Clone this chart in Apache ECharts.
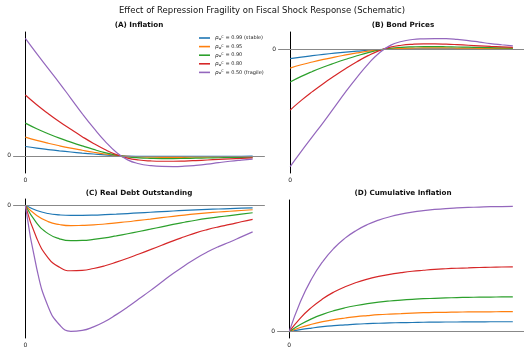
<!DOCTYPE html>
<html>
<head>
<meta charset="utf-8">
<script src="https://cdn.jsdelivr.net/npm/echarts@6/dist/echarts.min.js"></script>
<style>
  html,body{margin:0;padding:0;background:#fff;}
  #main{width:524px;height:348px;}
</style>
</head>
<body>
<div id="main"></div>
<script>
// horizon (periods after the shock)
const steps = [0,1,2,3,4,5,6,7,8,9,10,11,12,13,14,15,16,17,18,19,20];
const rhoLabels = ['0.99 (stable)','0.95','0.90','0.80','0.50 (fragile)'];
const colors = ['#1f77b4','#ff7f0e','#2ca02c','#d62728','#9467bd'];

// (A) Inflation
const inf99 = [0.079,0.065,0.053,0.042,0.032,0.023,0.015,0.007,0.001,-0.003,-0.005,-0.006,-0.006,-0.006,-0.006,-0.006,-0.005,-0.005,-0.004,-0.004,-0.003];
const inf95 = [0.159,0.131,0.107,0.085,0.065,0.047,0.030,0.015,0.003,-0.006,-0.010,-0.012,-0.013,-0.013,-0.013,-0.012,-0.011,-0.010,-0.009,-0.008,-0.007];
const inf90 = [0.278,0.230,0.188,0.150,0.116,0.084,0.054,0.027,0.005,-0.010,-0.018,-0.022,-0.024,-0.024,-0.023,-0.021,-0.019,-0.017,-0.015,-0.013,-0.011];
const inf80 = [0.518,0.435,0.360,0.290,0.225,0.163,0.105,0.053,0.010,-0.020,-0.036,-0.044,-0.047,-0.047,-0.045,-0.041,-0.036,-0.031,-0.026,-0.022,-0.018];
const inf50 = [1.000,0.870,0.745,0.620,0.490,0.360,0.238,0.125,0.030,-0.035,-0.068,-0.084,-0.091,-0.092,-0.089,-0.082,-0.072,-0.059,-0.047,-0.037,-0.028];

// (B) Bond prices
const bond99 = [-0.079,-0.065,-0.053,-0.042,-0.032,-0.023,-0.015,-0.007,-0.001,0.003,0.005,0.006,0.006,0.006,0.006,0.006,0.005,0.005,0.004,0.004,0.003];
const bond95 = [-0.159,-0.131,-0.107,-0.085,-0.065,-0.047,-0.030,-0.015,-0.003,0.006,0.010,0.012,0.013,0.013,0.013,0.012,0.011,0.010,0.009,0.008,0.007];
const bond90 = [-0.278,-0.230,-0.188,-0.150,-0.116,-0.084,-0.054,-0.027,-0.005,0.010,0.018,0.022,0.024,0.024,0.023,0.021,0.019,0.017,0.015,0.013,0.011];
const bond80 = [-0.518,-0.435,-0.360,-0.290,-0.225,-0.163,-0.105,-0.053,-0.010,0.020,0.036,0.044,0.047,0.047,0.045,0.041,0.036,0.031,0.026,0.022,0.018];
const bond50 = [-1.000,-0.870,-0.745,-0.620,-0.490,-0.360,-0.238,-0.125,-0.030,0.035,0.068,0.085,0.091,0.093,0.092,0.086,0.076,0.063,0.050,0.040,0.031];

// (C) Real debt outstanding
const debt99 = [0,-0.041,-0.065,-0.076,-0.080,-0.0795,-0.0775,-0.074,-0.070,-0.065,-0.060,-0.055,-0.050,-0.045,-0.040,-0.036,-0.032,-0.029,-0.026,-0.023,-0.021];
const debt95 = [0,-0.080,-0.129,-0.152,-0.161,-0.159,-0.155,-0.148,-0.139,-0.130,-0.119,-0.109,-0.098,-0.087,-0.077,-0.068,-0.060,-0.053,-0.047,-0.041,-0.035];
const debt90 = [0,-0.140,-0.224,-0.265,-0.280,-0.278,-0.270,-0.258,-0.242,-0.225,-0.207,-0.189,-0.170,-0.151,-0.134,-0.118,-0.104,-0.092,-0.081,-0.070,-0.059];
const debt80 = [0,-0.260,-0.415,-0.490,-0.518,-0.515,-0.500,-0.478,-0.450,-0.419,-0.385,-0.351,-0.316,-0.281,-0.249,-0.218,-0.192,-0.170,-0.151,-0.130,-0.111];
const debt50 = [0,-0.500,-0.800,-0.945,-0.997,-0.990,-0.962,-0.920,-0.865,-0.805,-0.740,-0.675,-0.607,-0.540,-0.478,-0.420,-0.370,-0.327,-0.290,-0.250,-0.210];

// (D) Cumulative inflation
const cum99 = [0,0.016,0.029,0.040,0.048,0.054,0.060,0.064,0.067,0.070,0.072,0.073,0.075,0.076,0.077,0.077,0.078,0.078,0.079,0.079,0.079];
const cum95 = [0,0.033,0.059,0.080,0.096,0.109,0.120,0.128,0.135,0.140,0.144,0.148,0.151,0.153,0.154,0.156,0.157,0.158,0.158,0.159,0.159];
const cum90 = [0,0.057,0.102,0.138,0.167,0.190,0.208,0.223,0.235,0.244,0.251,0.257,0.262,0.265,0.268,0.271,0.273,0.274,0.275,0.276,0.277];
const cum80 = [0,0.108,0.193,0.261,0.315,0.357,0.391,0.418,0.439,0.456,0.469,0.480,0.488,0.495,0.500,0.504,0.507,0.510,0.512,0.514,0.515];
const cum50 = [0,0.238,0.419,0.557,0.663,0.743,0.804,0.851,0.886,0.913,0.934,0.950,0.962,0.971,0.978,0.983,0.987,0.990,0.993,0.994,0.996];

const panels = [
  {title:'(A) Inflation', sets:[inf99,inf95,inf90,inf80,inf50], min:-0.147, max:1.055},
  {title:'(B) Bond Prices', sets:[bond99,bond95,bond90,bond80,bond50], min:-1.055, max:0.149},
  {title:'(C) Real Debt Outstanding', sets:[debt99,debt95,debt90,debt80,debt50], min:-1.05, max:0.05},
  {title:'(D) Cumulative Inflation', sets:[cum99,cum95,cum90,cum80,cum50], min:-0.05, max:1.046}
];

const grids = [
  {left:14, right:260, top:32, height:141},
  {left:279, right:-4, top:32, height:141},
  {left:14, right:260, top:199, height:142},
  {left:278, right:-4, top:200, height:142}
];
const titleX = [139, 403, 139, 403];
const titleY = [22, 22, 190, 190];

const axisLine = {show:true, lineStyle:{color:'#000', width:1}};
const xAxes = grids.map((g,i)=>({
  type:'value', gridIndex:i, min:-1, max:21,
  axisLine:axisLine,
  axisTick:{show:true, length:3, customValues:[0], lineStyle:{color:'#000'}},
  axisLabel:{show:true, customValues:[0], fontSize:6, color:'#222', margin:4, fontFamily:'DejaVu Sans'},
  splitLine:{show:false}
}));
const yAxes = panels.map((p,i)=>({
  type:'value', gridIndex:i, min:p.min, max:p.max,
  axisLine:axisLine,
  axisTick:{show:true, length:3, customValues:[0], lineStyle:{color:'#000'}},
  axisLabel:{show:true, customValues:[0], fontSize:6, color:'#222', margin:3, fontFamily:'DejaVu Sans'},
  splitLine:{show:false}
}));

const series = [];
panels.forEach((p,i)=>{
  p.sets.forEach((vals,k)=>{
    const s = {
      type:'line', name:rhoLabels[k], xAxisIndex:i, yAxisIndex:i,
      data:steps.map((x,j)=>[x, vals[j]]),
      showSymbol:false, smooth:0.5,
      lineStyle:{color:colors[k], width:1.2},
      itemStyle:{color:colors[k]}
    };
    if (k===0) {
      s.markLine = {
        silent:true, symbol:['none','none'], label:{show:false},
        lineStyle:{color:'#888', width:1, type:'solid'},
        data:[{yAxis:0}]
      };
    }
    series.push(s);
  });
});

const titles = [{
  text:'Effect of Repression Fragility on Fiscal Shock Response (Schematic)',
  left:262, top:6, textAlign:'center', padding:0,
  textStyle:{fontSize:8.5, fontWeight:'normal', color:'#111', fontFamily:'DejaVu Sans'}
}];
panels.forEach((p,i)=>{
  titles.push({
    text:p.title, left:titleX[i], top:titleY[i], textAlign:'center', padding:0,
    textStyle:{fontSize:7.2, fontWeight:'bold', color:'#111', fontFamily:'DejaVu Sans'}
  });
});

const chart = echarts.init(document.getElementById('main'));
chart.setOption({
  animation:false,
  backgroundColor:'#fff',
  title:titles,
  legend:{
    data:rhoLabels, orient:'vertical', left:199, top:35,
    icon:'rect', itemWidth:11, itemHeight:1.6, itemGap:2.6, padding:0,
    formatter:name=>'{r|ρ}{s|w}{c|C}{t| = '+name+'}',
    textStyle:{
      color:'#222', fontSize:5, lineHeight:6, fontFamily:'DejaVu Sans',
      rich:{
        r:{fontSize:5.5, fontStyle:'italic', fontFamily:'DejaVu Sans'},
        s:{fontSize:3.5, verticalAlign:'bottom', fontFamily:'DejaVu Sans'},
        c:{fontSize:3.5, verticalAlign:'top', fontFamily:'DejaVu Sans'},
        t:{fontSize:5, fontFamily:'DejaVu Sans'}
      }
    }
  },
  grid:grids,
  xAxis:xAxes,
  yAxis:yAxes,
  series:series
});
</script>
</body>
</html>
